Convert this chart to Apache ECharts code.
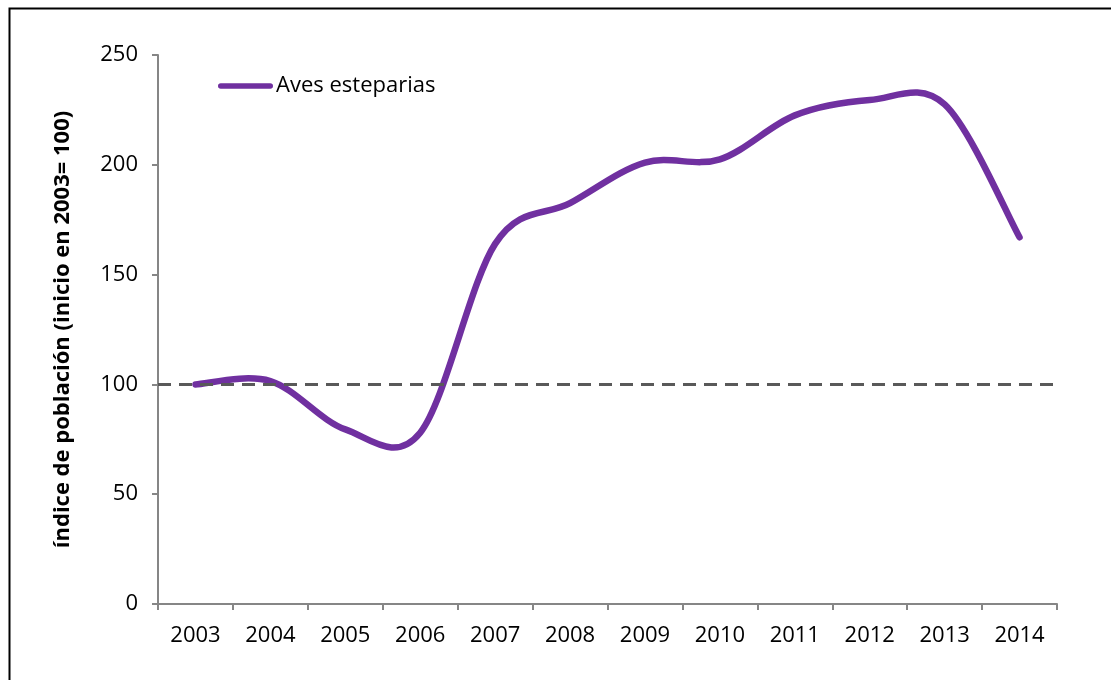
<!DOCTYPE html>
<html>
<head>
<meta charset="utf-8">
<script src="https://cdn.jsdelivr.net/npm/echarts@6/dist/echarts.min.js"></script>
<style>
html,body{margin:0;padding:0;background:#fff;}
#chart{width:1111px;height:680px;}
</style>
</head>
<body>
<div id="chart"></div>
<script>
const years = ['2003','2004','2005','2006','2007','2008','2009','2010','2011','2012','2013','2014'];
const avesEsteparias = [100, 101.5, 79.5, 78, 164, 182.5, 201, 202.5, 222.5, 229.5, 227.5, 167];
const referenceLevel = 100;
const seriesName = 'Aves esteparias';
const yAxisTitle = 'índice de población (inicio en 2003= 100)';

const font = '"Open Sans", "Liberation Sans", sans-serif';
const purple = '#7030A0';

// Excel-style smoothed line: cubic Bezier segments through the points mapped by the axes
function renderSmoothLine(params, api) {
  if (params.dataIndex !== 0) return null;
  const pts = avesEsteparias.map((v, i) => api.coord([i, v]));
  const n = pts.length;
  let d = 'M' + pts[0][0] + ' ' + pts[0][1];
  for (let i = 0; i < n - 1; i++) {
    const p0 = pts[Math.max(i - 1, 0)];
    const p1 = pts[i];
    const p2 = pts[i + 1];
    const p3 = pts[Math.min(i + 2, n - 1)];
    const c1x = p1[0] + (p2[0] - p0[0]) / 6;
    const c1y = p1[1] + (p2[1] - p0[1]) / 6;
    const c2x = p2[0] - (p3[0] - p1[0]) / 6;
    const c2y = p2[1] - (p3[1] - p1[1]) / 6;
    d += ' C' + c1x + ' ' + c1y + ' ' + c2x + ' ' + c2y + ' ' + p2[0] + ' ' + p2[1];
  }
  return {
    type: 'path',
    shape: {pathData: d},
    style: {fill: 'none', stroke: purple, lineWidth: 6.5, lineCap: 'round', lineJoin: 'round'},
    z2: 5
  };
}

const chart = echarts.init(document.getElementById('chart'));
chart.setOption({
  animation: false,
  backgroundColor: '#fff',
  graphic: [{
    type: 'rect',
    left: 7, top: 6,
    shape: {width: 1300, height: 900},
    style: {fill: 'none', stroke: '#000', lineWidth: 2},
    silent: true
  }],
  grid: {left: 158, right: 54, top: 55, bottom: 76},
  legend: {
    left: 218, top: 75, padding: 0,
    itemWidth: 55, itemHeight: 14, itemGap: 0,
    textStyle: {fontFamily: font, fontSize: 22, color: '#000', padding: [0, 0, 0, -2]},
    data: [{name: seriesName, icon: 'path://M3,0 L57,0 A3,3 0 0 1 57,6 L3,6 A3,3 0 0 1 3,0 Z'}]
  },
  xAxis: {
    type: 'category',
    data: years,
    boundaryGap: true,
    axisLine: {lineStyle: {color: '#868686', width: 2}},
    axisTick: {show: true, length: 6, inside: false, lineStyle: {color: '#868686', width: 2}},
    axisLabel: {fontFamily: font, fontSize: 22, color: '#000', margin: 21},
    splitLine: {show: false}
  },
  yAxis: {
    type: 'value',
    min: 0, max: 250, interval: 50,
    name: yAxisTitle,
    nameLocation: 'middle',
    nameGap: 84,
    nameTextStyle: {fontFamily: font, fontSize: 22, fontWeight: 'bold', color: '#000'},
    axisLine: {show: true, lineStyle: {color: '#868686', width: 2}},
    axisTick: {show: true, length: 6, lineStyle: {color: '#868686', width: 2}},
    axisLabel: {fontFamily: font, fontSize: 22, color: '#000', margin: 20},
    splitLine: {show: false}
  },
  series: [{
    name: seriesName,
    type: 'custom',
    data: avesEsteparias.map((v, i) => [i, v]),
    encode: {x: 0, y: 1},
    renderItem: renderSmoothLine,
    clip: false,
    itemStyle: {color: purple},
    markLine: {
      silent: true,
      symbol: ['none', 'none'],
      label: {show: false},
      lineStyle: {color: '#595959', width: 3, type: [13, 8]},
      data: [{yAxis: referenceLevel}]
    },
    z: 3
  }]
});
</script>
</body>
</html>
